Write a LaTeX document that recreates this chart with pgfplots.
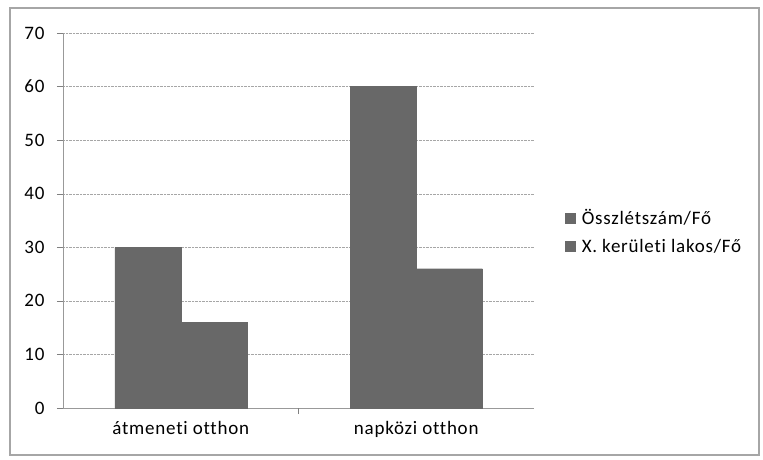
\documentclass[border=0pt]{standalone}
\usepackage{pgfplots}
\pgfplotsset{compat=1.18}
\usepackage{fontspec}
\setmainfont{Carlito}[LetterSpace=4, Ligatures=NoCommon]
\definecolor{barc}{HTML}{686868}
\begin{document}
\begin{tikzpicture}[x=1pt,y=1pt]
\path (0,0) rectangle (763,-459);
\draw[gray!70, line width=1.5pt] (10,-8) rectangle (759,-455);
\begin{axis}[
  at={(63pt,-408pt)}, anchor=south west,
  scale only axis, width=471pt, height=375pt,
  ybar=0pt, bar width=66pt,
  ymin=0, ymax=70, ytick={0,10,...,70},
  xmin=-0.5, xmax=1.5, xtick={0,1}, xticklabels={átmeneti otthon, napközi otthon},
  major tick length=6pt, tick align=outside,
  extra x ticks={0.5}, extra x tick labels={}, extra x tick style={xtick style={draw=gray}},
  xtick style={draw=none},
  ytick style={gray},
  ymajorgrids, grid style={gray!70, densely dotted},
  axis x line*=bottom, axis y line*=left,
  axis line style={gray!80},
  tick label style={font=\fontsize{19}{21}\selectfont},
  /pgf/number format/assume math mode=true,
  yticklabel style={xshift=-9pt},
  xticklabel style={yshift=-4pt},
  legend style={at={(1.06,0.47)}, anchor=west, draw=none, font=\fontsize{19}{21}\selectfont, row sep=9pt, fill=none},
  legend cell align=left,
  legend image code/.code={\fill[barc] (0pt,-5pt) rectangle (10pt,5pt); \path (14pt,0pt);},
]
\addplot[fill=barc, draw=barc, line width=0.3pt] coordinates {(0,30) (1,60)};
\addplot[fill=barc, draw=barc, line width=0.3pt] coordinates {(0,16) (1,26)};
\legend{Összlétszám/Fő, X. kerületi lakos/Fő}
\end{axis}
\end{tikzpicture}
\end{document}
